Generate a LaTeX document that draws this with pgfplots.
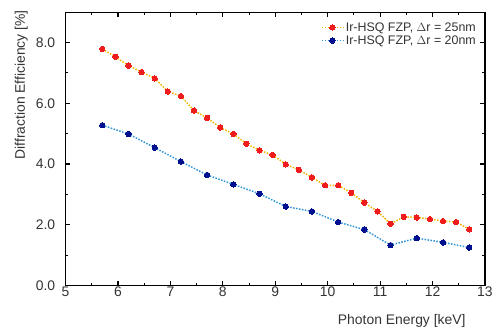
\documentclass[border=0pt]{standalone}
\usepackage{pgfplots}
\pgfplotsset{compat=1.18}
\usepackage{fontspec}
\setmainfont{Liberation Sans}
\definecolor{lineorange}{HTML}{F4B400}
\definecolor{mkred}{HTML}{EE1C1C}
\definecolor{lineblue}{HTML}{2E95D8}
\definecolor{mkblue}{HTML}{00108F}
\begin{document}
\begin{tikzpicture}
\begin{axis}[
  scale only axis,
  width=422pt, height=275pt,
  xmin=5, xmax=13, ymin=0, ymax=9,
  xtick={5,6,...,13},
  ytick={0,2,4,6,8},
  minor x tick num=1,
  minor y tick num=1,
  tick align=inside,
  major tick length=4.5pt,
  minor tick length=2.5pt,
  axis line style={line width=1.4pt},
  every tick/.style={black, line width=1.1pt},
  /pgf/number format/assume math mode=true,
  yticklabel={\pgfmathprintnumber[fixed,fixed zerofill,precision=1]{\tick}},
  ticklabel style={font=\fontsize{14}{16}\selectfont, text=black!80},
  xticklabel style={yshift=2.5pt},
  yticklabel style={xshift=-7pt},
  xlabel={Photon Energy [keV]},
  ylabel={Diffraction Efficiency [\%]},
  label style={font=\fontsize{14}{16}\selectfont, text=black!80},
  xlabel style={at={(rel axis cs:1,0)}, anchor=base east, xshift=-16pt, yshift=-39.4pt},
  ylabel style={at={(axis description cs:-0.1055,1.0084)}, anchor=east, inner sep=0pt},
  legend style={at={(rel axis cs:1,1)}, anchor=north east, xshift=-6pt, yshift=-7pt,
    draw=none, fill=none, font=\fontsize{12.5}{14}\selectfont, text=black!80,
    row sep=-1pt, inner sep=1pt},
  legend cell align=left,
  legend image code/.code={\draw[mark repeat=2,mark phase=2] plot coordinates {(0cm,0cm) (0.38cm,0cm) (0.76cm,0cm)};},
]
\addplot[lineorange, line width=1.5pt, dash pattern=on 1.5pt off 1.5pt,
  mark=*, mark size=2.7pt, mark options={solid, draw=mkred, fill=mkred, line width=0pt}]
coordinates {
(5.70,7.79) (5.95,7.53) (6.20,7.24) (6.45,7.03) (6.70,6.82) (6.95,6.39)
(7.20,6.24) (7.45,5.76) (7.70,5.52) (7.95,5.20) (8.20,4.99) (8.45,4.67)
(8.70,4.45) (8.95,4.30) (9.20,3.99) (9.45,3.81) (9.70,3.56) (9.95,3.30)
(10.20,3.30) (10.45,3.05) (10.70,2.73) (10.95,2.44) (11.20,2.03) (11.45,2.26)
(11.70,2.24) (11.95,2.19) (12.20,2.12) (12.45,2.09) (12.70,1.85)
};
\addlegendentry{Ir-HSQ FZP, $\Delta$r = 25nm}
\addplot[lineblue, line width=1.5pt, dash pattern=on 1.5pt off 1.5pt,
  mark=*, mark size=2.7pt, mark options={solid, draw=mkblue, fill=mkblue, line width=0pt}]
coordinates {
(5.70,5.28) (6.20,4.99) (6.70,4.54) (7.20,4.08) (7.70,3.64) (8.20,3.33)
(8.70,3.02) (9.20,2.60) (9.70,2.44) (10.20,2.09) (10.70,1.84) (11.20,1.33)
(11.70,1.56) (12.20,1.42) (12.70,1.25)
};
\addlegendentry{Ir-HSQ FZP, $\Delta$r = 20nm}
\end{axis}
\useasboundingbox ([xshift=-66pt,yshift=-45.7pt]current axis.south west) rectangle ([xshift=8pt,yshift=12.3pt]current axis.north east);
\end{tikzpicture}
\end{document}
